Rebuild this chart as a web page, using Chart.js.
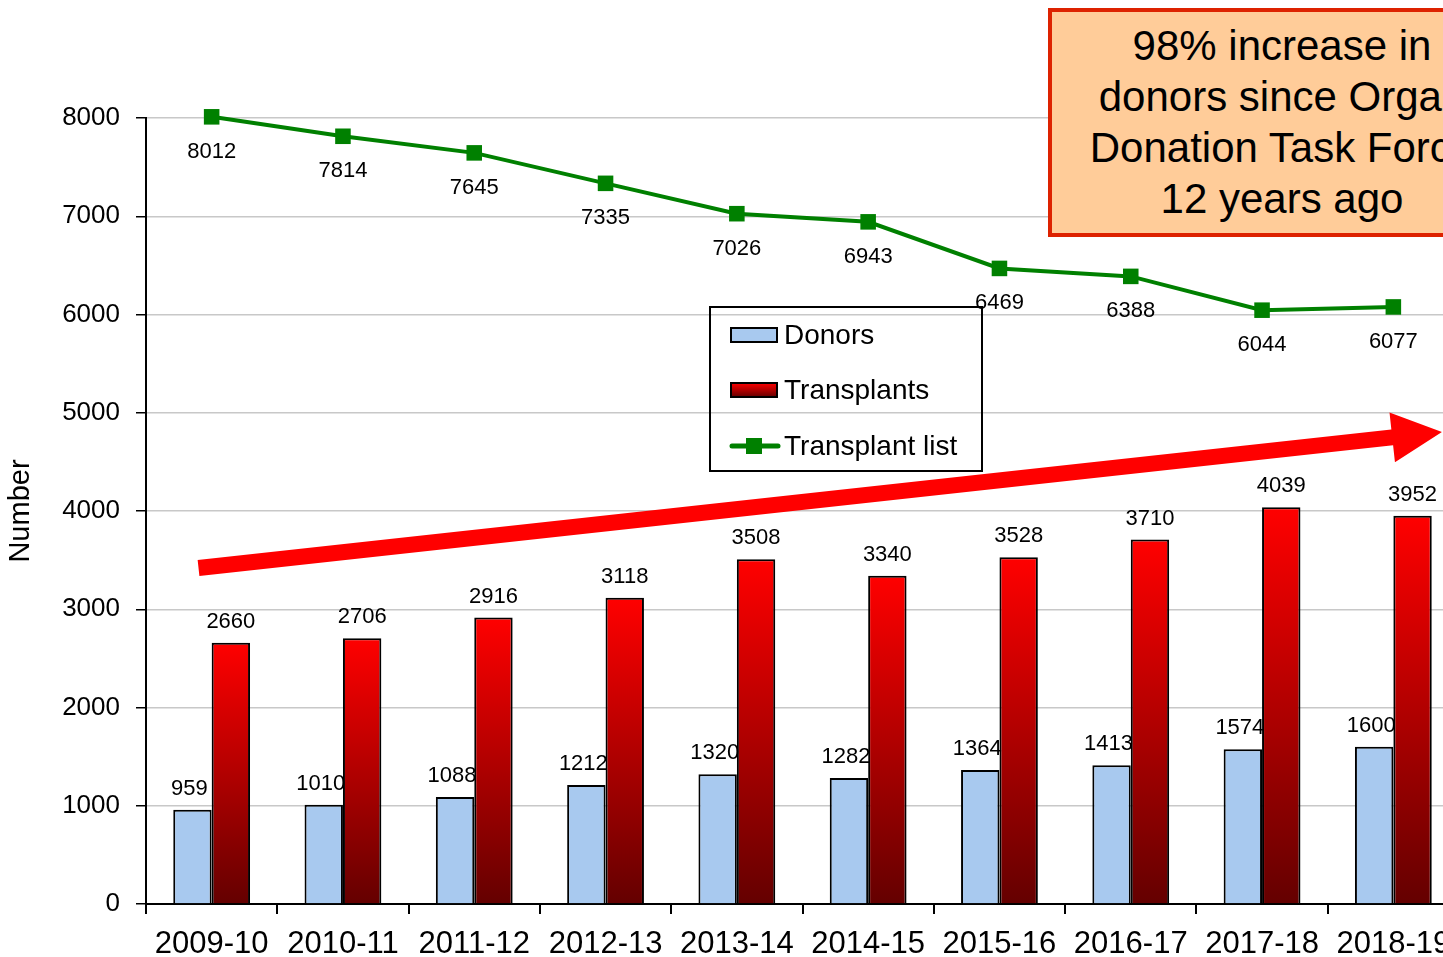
<!DOCTYPE html>
<html>
<head>
<meta charset="utf-8">
<script src="https://cdn.jsdelivr.net/npm/chart.js@4"></script>
<style>
  html, body { margin: 0; padding: 0; overflow: hidden; background: #fff; }
  #wrap { position: relative; width: 1470px; height: 957px; }
  #note {
    position: absolute; left: 1048px; top: 8px; width: 468px; height: 229px;
    background: #ffcc99; border: 4px solid #dd2200; box-sizing: border-box;
    font-family: 'Liberation Sans', Arial, sans-serif; font-size: 42px; line-height: 51px;
    text-align: center; color: #000; padding-top: 8px; white-space: nowrap;
  }
</style>
</head>
<body>
<div id="wrap">
  <canvas id="chart" width="1470" height="957"></canvas>
  <div id="note">98% increase in<br>donors since Organ<br>Donation Task Force<br>12 years ago</div>
</div>
<script>
// categories and series
const years = ['2009-10', '2010-11', '2011-12', '2012-13', '2013-14', '2014-15', '2015-16', '2016-17', '2017-18', '2018-19'];
const donors = [959, 1010, 1088, 1212, 1320, 1282, 1364, 1413, 1574, 1600];
const transplants = [2660, 2706, 2916, 3118, 3508, 3340, 3528, 3710, 4039, 3952];
const transplantList = [8012, 7814, 7645, 7335, 7026, 6943, 6469, 6388, 6044, 6077];

// trend arrow, in chart units (category index, value)
const arrowFrom = [-0.1, 3420];
const arrowTo = [9.37, 4805];

const FONT = "'Liberation Sans', Arial, sans-serif";

function redGradient(c, top, bottom) {
    const g = c.createLinearGradient(0, top, 0, bottom);
    g.addColorStop(0, '#ff0000');
    g.addColorStop(1, '#640000');
    return g;
}

// valeurs au-dessus des barres et sous les points
const labelsPlugin = {
    id: 'valueLabels',
    afterDatasetsDraw(chart) {
        const c = chart.ctx;
        c.save();
        c.fillStyle = '#000';
        c.font = '22px ' + FONT;
        c.textAlign = 'center';
        chart.data.datasets.forEach((ds, i) => {
            const meta = chart.getDatasetMeta(i);
            meta.data.forEach((el, j) => {
                const v = ds.data[j];
                if (ds.type === 'line') {
                    c.textBaseline = 'middle';
                    c.fillText(v, el.x, el.y + 35);
                } else {
                    c.textBaseline = 'bottom';
                    c.fillText(v, el.x - (i === 0 ? 3 : 0), el.y - 10);
                }
            });
        });
        c.restore();
    }
};

// grosse flèche rouge
const arrowPlugin = {
    id: 'trendArrow',
    afterDatasetsDraw(chart) {
        const { ctx: c, scales: { x, y } } = chart;
        const x0 = x.getPixelForValue(arrowFrom[0]), y0 = y.getPixelForValue(arrowFrom[1]);
        const x1 = x.getPixelForValue(arrowTo[0]), y1 = y.getPixelForValue(arrowTo[1]);
        const len = Math.hypot(x1 - x0, y1 - y0);
        const ux = (x1 - x0) / len, uy = (y1 - y0) / len;
        const nx = -uy, ny = ux;
        const shaft = 8, head = 25, headLen = 50;
        const bx = x1 - ux * headLen, by = y1 - uy * headLen;
        c.save();
        c.fillStyle = '#ff0000';
        c.beginPath();
        c.moveTo(x0 + nx * shaft, y0 + ny * shaft);
        c.lineTo(bx + nx * shaft, by + ny * shaft);
        c.lineTo(bx + nx * head, by + ny * head);
        c.lineTo(x1, y1);
        c.lineTo(bx - nx * head, by - ny * head);
        c.lineTo(bx - nx * shaft, by - ny * shaft);
        c.lineTo(x0 - nx * shaft, y0 - ny * shaft);
        c.closePath();
        c.fill();
        c.restore();
    }
};

// légende encadrée dans le graphique
const legendPlugin = {
    id: 'boxLegend',
    afterDraw(chart) {
        const c = chart.ctx;
        const bx = 710, by = 307, bw = 272, bh = 164;
        c.save();
        c.strokeStyle = '#000';
        c.lineWidth = 2;
        c.strokeRect(bx, by, bw, bh);
        const rows = [335, 390, 446];
        c.font = '28px ' + FONT;
        c.textBaseline = 'middle';
        c.textAlign = 'left';
        chart.data.datasets.forEach((ds, i) => {
            const ry = rows[i];
            if (ds.type === 'line') {
                c.strokeStyle = ds.borderColor;
                c.lineWidth = 5;
                c.lineCap = 'round';
                c.beginPath();
                c.moveTo(732, ry);
                c.lineTo(778, ry);
                c.stroke();
                c.fillStyle = ds.borderColor;
                c.fillRect(746, ry - 8, 16, 16);
            } else {
                c.fillStyle = i === 1 ? redGradient(c, ry - 7, ry + 7) : ds.legendColor;
                c.fillRect(731, ry - 7, 46, 14);
                c.strokeStyle = '#000';
                c.lineWidth = 2;
                c.strokeRect(731, ry - 7, 46, 14);
            }
            c.fillStyle = '#000';
            c.fillText(ds.label, 784, ry + 1);
        });
        c.restore();
    }
};

new Chart(document.getElementById('chart'), {
    type: 'bar',
    data: {
        labels: years,
        datasets: [
            {
                label: 'Donors',
                data: donors,
                legendColor: '#a8c9ef',
                backgroundColor: '#a8c9ef',
                borderColor: '#000',
                borderWidth: 2,
                categoryPercentage: 0.585,
                barPercentage: 1.0
            },
            {
                label: 'Transplants',
                data: transplants,
                backgroundColor: ctx => {
                    const chart = ctx.chart;
                    if (!chart.chartArea || ctx.type !== 'data') return '#ff0000';
                    const y = chart.scales.y;
                    return redGradient(chart.ctx, y.getPixelForValue(ctx.raw), y.getPixelForValue(0));
                },
                borderColor: '#000',
                borderWidth: 2,
                categoryPercentage: 0.585,
                barPercentage: 1.0
            },
            {
                type: 'line',
                label: 'Transplant list',
                data: transplantList,
                borderColor: '#008000',
                backgroundColor: '#008000',
                borderWidth: 4,
                pointStyle: 'rect',
                pointRadius: 11,
                pointBorderWidth: 0,
                tension: 0,
                clip: false
            }
        ]
    },
    options: {
        responsive: false,
        animation: false,
        devicePixelRatio: 1,
        layout: { padding: { left: 0, top: 118, right: 10, bottom: 0 } },
        plugins: { legend: { display: false }, tooltip: { enabled: false } },
        scales: {
            x: {
                afterFit: s => { s.height = 53; },
                grid: { drawOnChartArea: false, tickLength: 10, tickColor: '#000', lineWidth: 2, offset: true },
                border: { color: '#000', width: 2 },
                ticks: { color: '#000', font: { family: FONT, size: 31 }, padding: 12, autoSkip: false, maxRotation: 0 }
            },
            y: {
                min: 0,
                max: 8000,
                afterFit: s => { s.width = 146; },
                grid: { color: '#c8c8c8', lineWidth: 1.5, tickLength: 10, tickColor: '#000' },
                border: { color: '#000', width: 2 },
                ticks: {
                    stepSize: 1000, color: '#000', font: { family: FONT, size: 26 }, padding: 16,
                    callback: v => String(v)
                },
                title: { display: true, text: 'Number', color: '#000', font: { family: FONT, size: 29 } }
            }
        }
    },
    plugins: [labelsPlugin, arrowPlugin, legendPlugin]
});
</script>
</body>
</html>
